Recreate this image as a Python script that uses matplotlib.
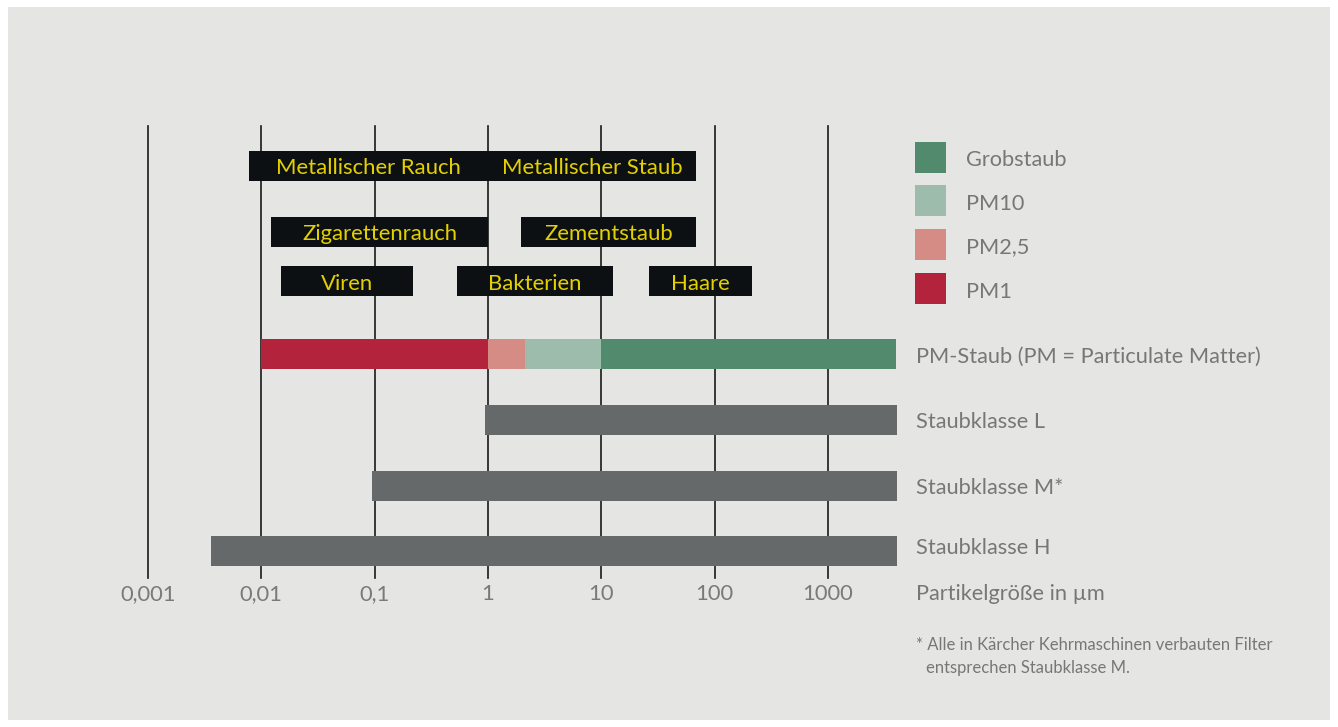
import numpy as np
import matplotlib
matplotlib.use("Agg")
import matplotlib.pyplot as plt
from matplotlib.patches import Rectangle

plt.rcParams['font.family'] = ['Lato', 'DejaVu Sans']

# particle size ranges (µm), log scale
tick_vals = [0.001, 0.01, 0.1, 1, 10, 100, 1000]
tick_labels = ["0,001", "0,01", "0,1", "1", "10", "100", "1000"]

box_names = ["Metallischer Rauch", "Metallischer Staub", "Zigarettenrauch", "Zementstaub",
             "Viren", "Bakterien", "Haare"]
box_start = [0.0078, 1.0, 0.0122, 1.95, 0.015, 0.53, 26.5]
box_end = [1.0, 69, 1.0, 69, 0.22, 12.8, 212]
box_row = [0, 0, 1, 1, 2, 2, 2]

pm_names = ["PM1", "PM2,5", "PM10", "Grobstaub"]
pm_start = [0.01, 1.0, 2.1, 10]
pm_end = [1.0, 2.1, 10, 4000]
pm_colors = ["#b3233b", "#d48c84", "#9dbcab", "#528a6e"]

class_names = ["Staubklasse L", "Staubklasse M*", "Staubklasse H"]
class_start = [0.94, 0.094, 0.0036]
class_end = [4100, 4100, 4100]

W, H = 1338, 727
dy = 2.5  # text sits a little lower than the geometric centre
fig = plt.figure(figsize=(W / 100, H / 100), dpi=100)
fig.patch.set_facecolor("white")
fig.patches.append(Rectangle((8 / W, 7 / H), (1330 - 8) / W, (720 - 7) / H,
                             transform=fig.transFigure, facecolor="#e5e5e3",
                             edgecolor="none", zorder=-5))

# axes in pixel-like y units, x positions tuned so 0.001 -> px 148, 1000 -> px 828
px_dec = (828 - 148) / 6.0
ax_l, ax_r = 100, 900
ax_t, ax_b = 100, 600
ax = fig.add_axes([ax_l / W, 1 - ax_b / H, (ax_r - ax_l) / W, (ax_b - ax_t) / H])
ax.set_xscale("log")
ax.set_xlim(10 ** (-3 + (ax_l - 148) / px_dec), 10 ** (-3 + (ax_r - 148) / px_dec))
ax.set_ylim(ax_b, ax_t)
ax.axis("off")
ax.patch.set_alpha(0)

# vertical grid lines
for v, lab in zip(tick_vals, tick_labels):
    ax.plot([v, v], [126, 578], color="#1a1a1a", lw=1.2, zorder=1)
    ax.text(v, 592 + dy, lab, ha="center", va="center", fontsize=15.8, color="#7a7a7a")

# label boxes
row_y = [166, 232, 281]
for name, s, e, r in zip(box_names, box_start, box_end, box_row):
    ax.barh(row_y[r], e - s, left=s, height=30, color="#0d1013", zorder=2)
    ax.text(np.sqrt(s * e), row_y[r] + dy, name, ha="center", va="center",
            fontsize=15.9, color="#e3d000", zorder=3)

# PM bar
bar_y = [354, 420, 486, 551]
for s, e, c in zip(pm_start, pm_end, pm_colors):
    ax.barh(bar_y[0], e - s, left=s, height=30, color=c, zorder=2)

for i, (s, e) in enumerate(zip(class_start, class_end)):
    ax.barh(bar_y[i + 1], e - s, left=s, height=30, color="#656969", zorder=2)

# right side labels
row_labels = ["PM-Staub (PM = Particulate Matter)"] + class_names
label_y = [354, 420, 486, 545]
for y, lab in zip(label_y, row_labels):
    fig.text(916 / W, 1 - (y + dy) / H, lab, ha="left", va="center", fontsize=15.7, color="#777777")
fig.text(916 / W, 1 - (592 + dy) / H, "Partikelgröße in µm", ha="left", va="center",
         fontsize=15.7, color="#777777")

# legend
leg_y = [157, 201, 245, 289]
for y, name, c in zip(leg_y, pm_names[::-1], pm_colors[::-1]):
    fig.patches.append(Rectangle((915 / W, 1 - (y + 15.5) / H), 31 / W, 31 / H,
                                 transform=fig.transFigure, facecolor=c, edgecolor="none"))
    fig.text(966 / W, 1 - (y + dy) / H, name, ha="left", va="center", fontsize=15.7, color="#777777")

fig.text(916 / W, 1 - (643 + 1.5) / H, "* Alle in Kärcher Kehrmaschinen verbauten Filter",
         ha="left", va="center", fontsize=12, color="#777777")
fig.text(926 / W, 1 - (666 + 1.5) / H, "entsprechen Staubklasse M.",
         ha="left", va="center", fontsize=12, color="#777777")

fig.savefig("out.png", dpi=100, facecolor=fig.get_facecolor())
